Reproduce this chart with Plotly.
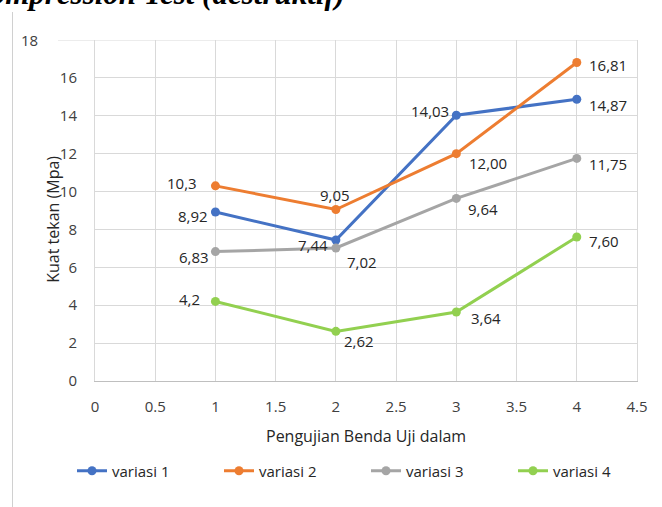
import plotly.graph_objects as go

# ---- data ----
x_vals = [1, 2, 3, 4]
series_names = ["variasi 1", "variasi 2", "variasi 3", "variasi 4"]
variasi_1 = [8.92, 7.44, 14.03, 14.87]
variasi_2 = [10.3, 9.05, 12.00, 16.81]
variasi_3 = [6.83, 7.02, 9.64, 11.75]
variasi_4 = [4.2, 2.62, 3.64, 7.60]
labels_1 = ["8,92", "7,44", "14,03", "14,87"]
labels_2 = ["10,3", "9,05", "12,00", "16,81"]
labels_3 = ["6,83", "7,02", "9,64", "11,75"]
labels_4 = ["4,2", "2,62", "3,64", "7,60"]
y_tick_vals = [0, 2, 4, 6, 8, 10, 12, 14, 16]

# ---- style ----
colors = ["#4472C4", "#ED7D31", "#A5A5A5", "#92D050"]
FONT = "Open Sans"
TXT = "#404040"
GRID = "#D9D9D9"

# label placement (xanchor, xshift, yshift) per point
label_pos = [
    [("right", -5, -4), ("right", -6, -5), ("right", -5, 4), ("left", 10, -6)],
    [("right", -16, 3), ("center", -1, 15), ("left", 11, -9), ("left", 10, -2)],
    [("right", -4, -5), ("left", 9, -14), ("left", 10, -11), ("left", 10, -6)],
    [("right", -13, 2), ("left", 6, -10), ("left", 13, -6), ("left", 10, -4)],
]

all_vals = [variasi_1, variasi_2, variasi_3, variasi_4]
all_labels = [labels_1, labels_2, labels_3, labels_4]

fig = go.Figure()
for name, vals, col in zip(series_names, all_vals, colors):
    fig.add_trace(go.Scatter(
        x=x_vals, y=vals, mode="lines+markers", name=name,
        line=dict(color=col, width=3),
        marker=dict(color=col, size=9),
    ))

annotations = []
for vals, labs, pos in zip(all_vals, all_labels, label_pos):
    for xv, yv, lab, (xa, xs, ys) in zip(x_vals, vals, labs, pos):
        annotations.append(dict(
            x=xv, y=yv, xref="x", yref="y", text=lab, showarrow=False,
            xanchor=xa, yanchor="middle", xshift=xs, yshift=ys,
            font=dict(family=FONT, size=15, color="#262626"),
        ))

# "18" label placed far left
annotations.append(dict(x=(29 - 95) / 542, y=18, xref="paper", yref="y", text="18",
                        showarrow=False, xanchor="center", yanchor="middle",
                        font=dict(family=FONT, size=15, color=TXT)))
# y axis title
annotations.append(dict(x=-0.078, y=0.475, xref="paper", yref="paper",
                        text="Kuat tekan (Mpa)", showarrow=False, textangle=-90,
                        xanchor="center", yanchor="middle",
                        font=dict(family=FONT, size=16, color="#262626")))
# x axis title
annotations.append(dict(x=0.5, y=(381 - 436) / 341, xref="paper", yref="paper",
                        text="Pengujian Benda Uji dalam", showarrow=False,
                        xanchor="center", yanchor="middle",
                        font=dict(family=FONT, size=16, color="#262626")))
# cut-off heading at the top (the reference shows only its lower part)
annotations.append(dict(x=(347 - 95) / 542, y=(381 - 13) / 341, xref="paper", yref="paper",
                        text="<b><i>Compression Test (destruktif)</i></b>", showarrow=False,
                        xanchor="right", yanchor="bottom",
                        font=dict(family="Liberation Serif", size=31, color="#000000")))

shapes = [
    # gridline at 18 extending left
    dict(type="line", xref="paper", yref="y", x0=(58 - 95) / 542, x1=1, y0=18, y1=18,
         line=dict(color=GRID, width=1)),
    # left border of the picture
    dict(type="line", xref="paper", yref="paper", x0=(12.5 - 95) / 542, x1=(12.5 - 95) / 542,
         y0=(381 - 507) / 341, y1=(381 - 12) / 341, line=dict(color="#D0D0D0", width=1)),
]

fig.update_layout(
    width=662, height=507,
    margin=dict(l=95, r=25, t=40, b=126),
    paper_bgcolor="white", plot_bgcolor="white",
    font=dict(family=FONT, size=15, color=TXT),
    annotations=annotations, shapes=shapes,
    showlegend=True,
    legend=dict(orientation="h", x=(72 - 95) / 542, xanchor="left",
                y=(381 - 471) / 341, yanchor="middle",
                font=dict(family=FONT, size=15, color="#262626"),
                entrywidth=102, itemwidth=30, bgcolor="rgba(0,0,0,0)"),
    xaxis=dict(range=[0, 4.5], dtick=0.5, tick0=0, showgrid=True, gridcolor=GRID,
               zeroline=False, showline=True, linecolor="#BFBFBF", linewidth=1,
               ticks="", ticklabelstandoff=12, tickfont=dict(size=15, color=TXT)),
    yaxis=dict(range=[0, 18], tickvals=y_tick_vals, showgrid=True, gridcolor=GRID,
               zeroline=False, showline=True, linecolor=GRID, mirror=True,
               ticks="", ticklabelstandoff=14, tickfont=dict(size=15, color=TXT)),
)

fig.write_html("out.html", config={"displayModeBar": False},
               post_script="document.body.style.margin='0px';")
